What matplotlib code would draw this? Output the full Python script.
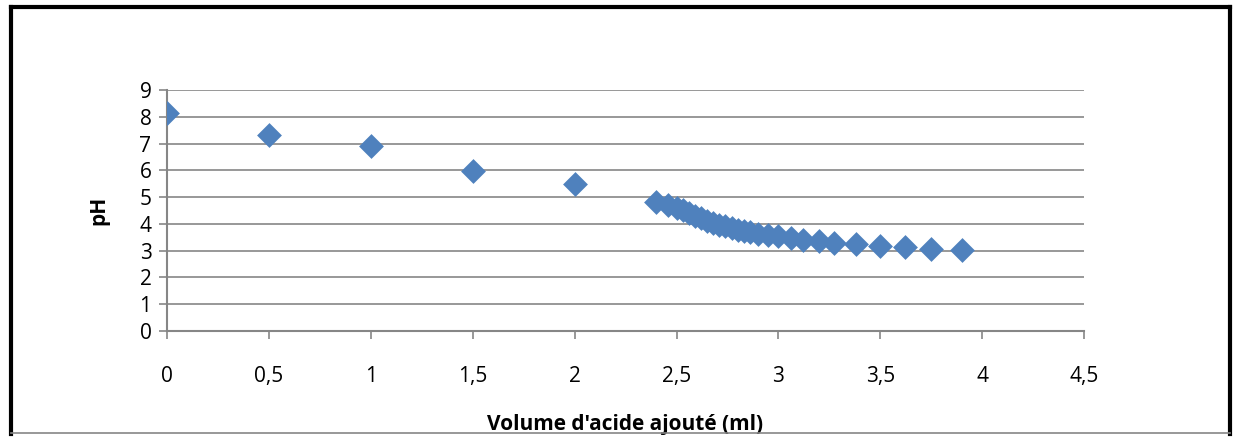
import matplotlib
matplotlib.use("Agg")
import matplotlib.pyplot as plt
from matplotlib.lines import Line2D

plt.rcParams['font.family'] = ['Open Sans', 'DejaVu Sans']

volume = [0, 0.5, 1, 1.5, 2, 2.40, 2.46, 2.50, 2.53, 2.56, 2.59, 2.62, 2.65, 2.68,
          2.71, 2.74, 2.77, 2.80, 2.83, 2.86, 2.90, 2.95, 3.00, 3.06, 3.12, 3.20,
          3.27, 3.38, 3.50, 3.62, 3.75, 3.90]
ph = [8.15, 7.31, 6.9, 5.98, 5.5, 4.80, 4.72, 4.58, 4.50, 4.40, 4.30, 4.20, 4.12, 4.04,
      3.97, 3.90, 3.84, 3.78, 3.73, 3.68, 3.63, 3.58, 3.53, 3.47, 3.41, 3.35,
      3.28, 3.24, 3.17, 3.12, 3.06, 3.01]
xticks = [0, 0.5, 1, 1.5, 2, 2.5, 3, 3.5, 4, 4.5]
xlabels = ['0', '0,5', '1', '1,5', '2', '2,5', '3', '3,5', '4', '4,5']
yticks = list(range(0, 10))

fig = plt.figure(figsize=(12.35, 4.37), dpi=100)
ax = fig.add_axes([0.135, 0.243, 0.743, 0.551])

grid_c = '#868686'
ax.scatter(volume, ph, marker='D', s=160, color='#4F81BD', zorder=3, linewidths=0)

ax.set_xlim(0, 4.5)
ax.set_ylim(0, 9)
ax.set_xticks(xticks)
ax.set_xticklabels(xlabels)
ax.set_yticks(yticks)
ax.yaxis.grid(True, color=grid_c, linewidth=1.2)
ax.set_axisbelow(True)
for s in ['top', 'right']:
    ax.spines[s].set_visible(False)
for s in ['left', 'bottom']:
    ax.spines[s].set_color(grid_c)
    ax.spines[s].set_linewidth(1.5)
ax.tick_params(axis='both', colors=grid_c, labelcolor='black', labelsize=15,
               length=6, width=1.2)
ax.tick_params(axis='x', pad=19)
ax.tick_params(axis='y', pad=5)

ax.set_xlabel("Volume d'acide ajouté (ml)", fontsize=15, fontweight='bold', labelpad=20)
ax.set_ylabel('pH', fontsize=15, fontweight='bold', labelpad=22)

# chart border
fig.add_artist(Line2D([0.009, 0.009], [0.007, 0.985], color='black', lw=3, transform=fig.transFigure))
fig.add_artist(Line2D([0.009, 0.996], [0.985, 0.985], color='black', lw=3, transform=fig.transFigure))
fig.add_artist(Line2D([0.996, 0.996], [0.007, 0.985], color='black', lw=3, transform=fig.transFigure))
fig.add_artist(Line2D([0.009, 0.996], [0.009, 0.009], color=grid_c, lw=1.2, transform=fig.transFigure))

fig.savefig('out.png', dpi=100)
